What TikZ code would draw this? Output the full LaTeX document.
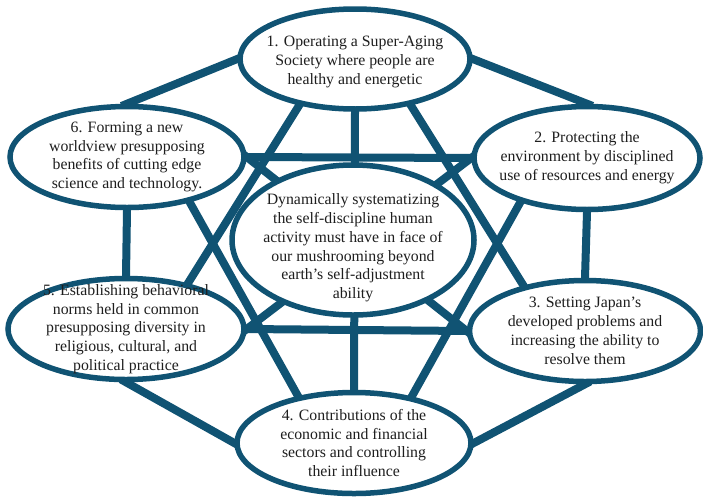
\documentclass[tikz,border=0pt]{standalone}
\usepackage{fontspec}
\setmainfont{Liberation Serif}
\usetikzlibrary{shapes.geometric,backgrounds,calc}
\definecolor{linkblue}{RGB}{16,83,115}
\definecolor{inkgray}{RGB}{30,30,30}
\begin{document}
\begin{tikzpicture}[x=1pt,y=-1pt,
  bub/.style={ellipse, draw=linkblue, line width=5.5pt, fill=white, inner sep=0pt},
  txt/.style={align=center, inner sep=0pt, text=inkgray, font=\fontsize{15.8}{18.8}\selectfont},
  link/.style={draw=linkblue, line width=8pt, shorten <=-6pt, shorten >=-6pt},
  star/.style={draw=linkblue, line width=8pt}]
\useasboundingbox (0,0) rectangle (703,498);
% ellipses
\node[bub, minimum width=230pt, minimum height=100pt] (e1) at (355,59) {};
\node[bub, minimum width=226pt, minimum height=103pt] (e2) at (587,158) {};
\node[bub, minimum width=231pt, minimum height=101pt] (e3) at (585,331) {};
\node[bub, minimum width=234pt, minimum height=101pt] (e4) at (354,443) {};
\node[bub, minimum width=236pt, minimum height=101pt] (e5) at (126,329) {};
\node[bub, minimum width=234pt, minimum height=101pt] (e6) at (127,157) {};
\node[bub, minimum width=242pt, minimum height=150pt] (c) at (353,240) {};
% texts
\node[txt] (t1) at ($(e1)+(0,3)$) {1. Operating a Super-Aging\\Society where people are\\healthy and energetic};
\node[txt] (t2) at (e2) {2. Protecting the\\environment by disciplined\\use of resources and energy};
\node[txt] (t3) at (e3) {3. Setting Japan’s\\developed problems and\\increasing the ability to\\resolve them};
\node[txt] (t4) at (e4) {4. Contributions of the\\economic and financial\\sectors and controlling\\their influence};
\node[txt] (t5) at (e5) {5. Establishing behavioral\\norms held in common\\presupposing diversity in\\religious, cultural, and\\political practice};
\node[txt] (t6) at (e6) {6. Forming a new\\worldview presupposing\\benefits of cutting edge\\science and technology.};
\node[txt] (tc) at ($(c)+(0,8)$) {Dynamically systematizing\\the self-discipline human\\activity must have in face of\\our mushrooming beyond\\earth’s self-adjustment\\ability};
% star vertices (inside the ellipses)
\coordinate (a1L) at (335,48);
\coordinate (a1R) at (375,48);
\coordinate (a5) at (160,328);
\coordinate (a3) at (550,328);
\coordinate (b6) at (165,158);
\coordinate (b2) at (545,158);
\coordinate (b4L) at (332,457);
\coordinate (b4R) at (378,457);
\begin{scope}[on background layer]
  % outer hexagon
  \draw[link] (e1.west) -- (e6.north);
  \draw[link] (e1.east) -- (e2.north);
  \draw[link] (e2.south) -- (e3.north);
  \draw[link] (e3.south) -- (e4.east);
  \draw[link] (e4.west) -- (e5.south);
  \draw[link] (e5.north) -- (e6.south);
  % horizontals and vertical
  \draw[link] (e6.east) -- (e2.west);
  \draw[link] (e5.east) -- (e3.west);
  \draw[link] (e1.south) -- (e4.north);
  % long diagonals
  \draw[link] (e6.east) -- (e3.west);
  \draw[link] (e2.west) -- (e5.east);
  % star triangles
  \draw[star] (a1L) -- (a5);
  \draw[star] (a1R) -- (a3);
  \draw[star] (b6) -- (b4L);
  \draw[star] (b2) -- (b4R);
\end{scope}
\end{tikzpicture}
\end{document}
